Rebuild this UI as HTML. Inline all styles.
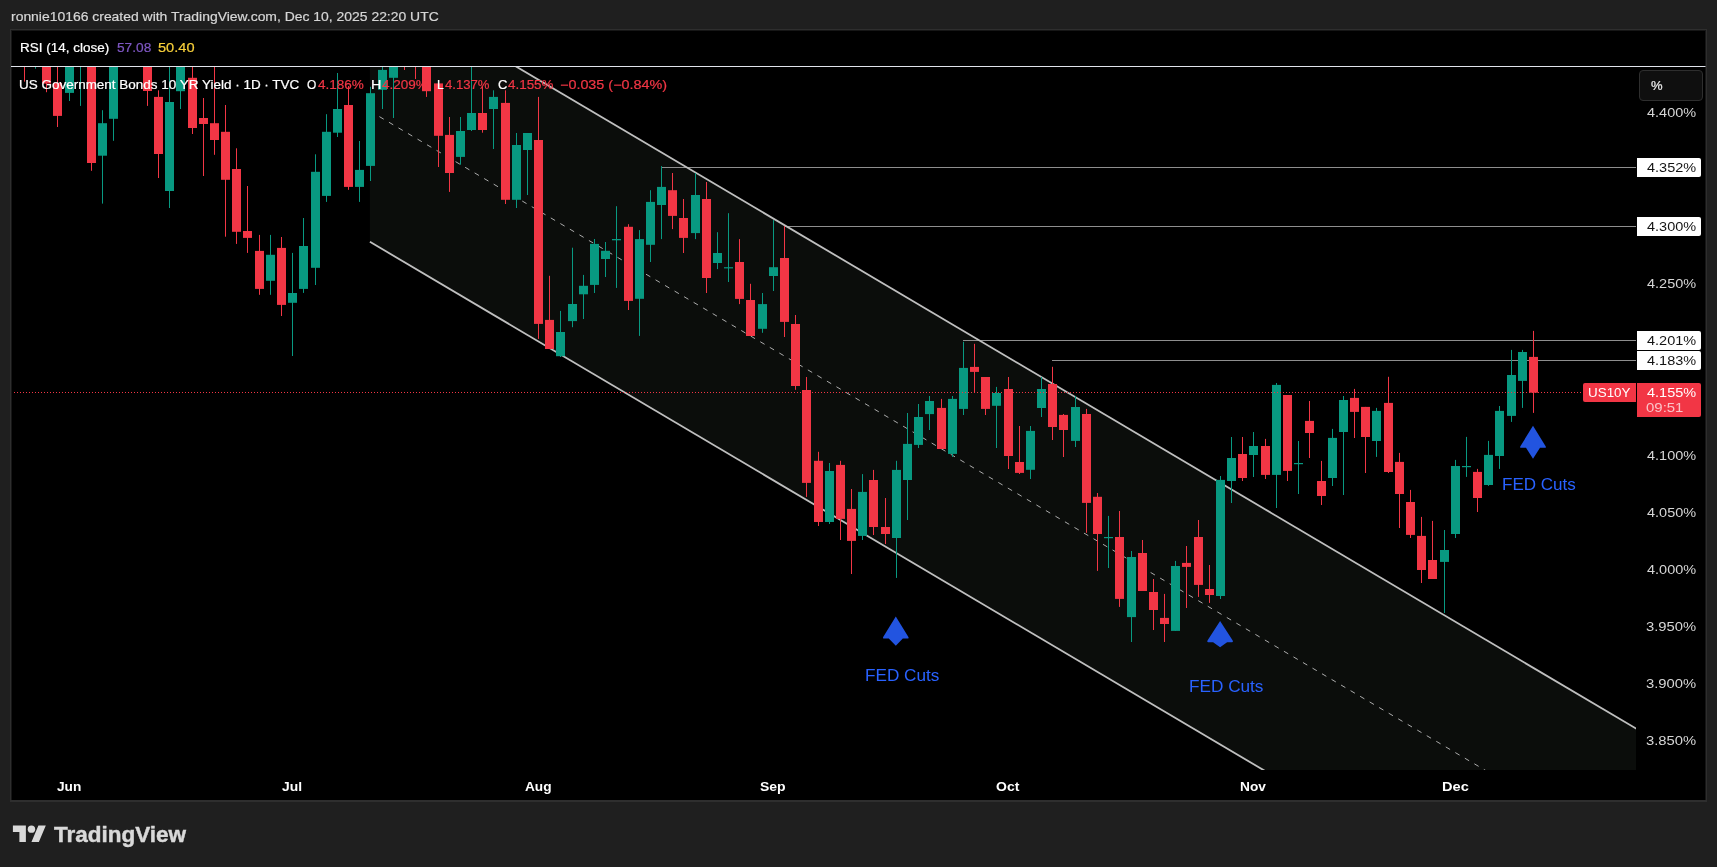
<!DOCTYPE html>
<html lang="en">
<head>
<meta charset="utf-8">
<title>US10Y chart</title>
<style>
html,body{margin:0;padding:0;}
body{width:1717px;height:867px;background:#1f1f1f;position:relative;overflow:hidden;font-family:"Liberation Sans", Arial, sans-serif;}
.frame{position:absolute;left:10px;top:29px;width:1697px;height:772.7px;background:#2e2e2e;}
.mid{position:absolute;left:11px;top:30px;width:1695px;height:770.3px;background:#161616;}
.inner{position:absolute;left:12px;top:31px;width:1693px;height:769px;background:#000;}
svg{position:absolute;left:0;top:0;}
.t{position:absolute;white-space:nowrap;font-family:"Liberation Sans", Arial, sans-serif;transform-origin:0 50%;will-change:transform;}
.lab{position:absolute;left:1637px;width:64px;height:19px;background:#fff;color:#1a1a1a;font-size:13px;line-height:19px;text-align:right;padding-right:5.7px;box-sizing:border-box;border-radius:0 2px 2px 0;}
.plab{position:absolute;left:1637px;top:383px;width:64px;height:33.8px;background:#f23645;color:#fff;font-size:13px;line-height:14.6px;text-align:right;padding:2.4px 5.7px 0 0;box-sizing:border-box;border-radius:0 2px 2px 0;}
.plab .cd{color:rgba(255,255,255,0.72);padding-right:11px;}
.sym{position:absolute;left:1583px;top:383px;width:52.6px;height:19px;background:#f23645;color:#fff;font-size:13px;line-height:19px;text-align:center;border-radius:2px 0 0 2px;}
.pct{position:absolute;left:1639.2px;top:70.4px;width:63.6px;height:30.4px;box-sizing:border-box;border:1px solid #2e2e2e;border-radius:4px;background:#0f0f0f;color:#d9d9d9;font-size:13px;line-height:28.4px;padding-left:10.4px;}
</style>
</head>
<body>
<div class="frame"></div>
<div class="mid"></div>
<div class="inner"></div>
<svg width="1717" height="867" viewBox="0 0 1717 867" shape-rendering="auto">
<defs><clipPath id="plot"><rect x="12.0" y="67.0" width="1624.0" height="703.0"/></clipPath></defs>
<g clip-path="url(#plot)">
<polygon points="369.9,-19.9 1700.0,766.4 1700.0,1028.1 369.9,241.8" fill="#0b0d0b"/>
<line x1="369.9" y1="111.0" x2="1700" y2="897.2" stroke="#ababab" stroke-width="1" stroke-dasharray="5 6.06"/>
<line x1="661" y1="167.5" x2="1636.0" y2="167.5" stroke="#8e8e8e" stroke-width="1"/>
<line x1="784" y1="226.5" x2="1636.0" y2="226.5" stroke="#8e8e8e" stroke-width="1"/>
<line x1="963" y1="340.5" x2="1636.0" y2="340.5" stroke="#8e8e8e" stroke-width="1"/>
<line x1="1052" y1="360.5" x2="1636.0" y2="360.5" stroke="#8e8e8e" stroke-width="1"/>
<line x1="369.9" y1="-19.9" x2="1700" y2="766.4" stroke="#bfbfbf" stroke-width="1.8"/>
<line x1="369.9" y1="241.8" x2="1700" y2="1028.1" stroke="#bfbfbf" stroke-width="1.8"/>
<rect x="24" y="40.0" width="1" height="41.6" fill="#f23645"/>
<rect x="20" y="40.0" width="9" height="10.0" fill="#f23645"/>
<rect x="35" y="40.0" width="1" height="28.7" fill="#089981"/>
<rect x="31" y="40.0" width="9" height="10.0" fill="#089981"/>
<rect x="46" y="40.0" width="1" height="52.2" fill="#f23645"/>
<rect x="42" y="40.0" width="9" height="43.6" fill="#f23645"/>
<rect x="57" y="40.0" width="1" height="87.0" fill="#f23645"/>
<rect x="53" y="83.0" width="9" height="32.9" fill="#f23645"/>
<rect x="69" y="40.0" width="1" height="61.0" fill="#089981"/>
<rect x="65" y="40.0" width="9" height="52.9" fill="#089981"/>
<rect x="80" y="40.0" width="1" height="65.9" fill="#089981"/>
<rect x="76" y="40.0" width="9" height="10.0" fill="#089981"/>
<rect x="91" y="40.0" width="1" height="130.8" fill="#f23645"/>
<rect x="87" y="40.0" width="9" height="123.0" fill="#f23645"/>
<rect x="102" y="110.2" width="1" height="93.4" fill="#089981"/>
<rect x="98" y="123.2" width="9" height="32.5" fill="#089981"/>
<rect x="113" y="40.0" width="1" height="100.8" fill="#089981"/>
<rect x="109" y="40.0" width="9" height="78.8" fill="#089981"/>
<rect x="147" y="40.0" width="1" height="65.9" fill="#f23645"/>
<rect x="143" y="40.0" width="9" height="51.0" fill="#f23645"/>
<rect x="158" y="90.3" width="1" height="87.7" fill="#f23645"/>
<rect x="154" y="96.9" width="9" height="57.1" fill="#f23645"/>
<rect x="169" y="40.0" width="1" height="168.0" fill="#089981"/>
<rect x="165" y="102.0" width="9" height="89.0" fill="#089981"/>
<rect x="180" y="40.0" width="1" height="69.0" fill="#089981"/>
<rect x="176" y="40.0" width="9" height="51.2" fill="#089981"/>
<rect x="192" y="40.0" width="1" height="94.0" fill="#f23645"/>
<rect x="188" y="77.8" width="9" height="50.2" fill="#f23645"/>
<rect x="203" y="98.0" width="1" height="78.0" fill="#f23645"/>
<rect x="199" y="118.0" width="9" height="6.0" fill="#f23645"/>
<rect x="214" y="40.0" width="1" height="114.8" fill="#f23645"/>
<rect x="210" y="123.2" width="9" height="16.8" fill="#f23645"/>
<rect x="225" y="105.0" width="1" height="131.7" fill="#f23645"/>
<rect x="221" y="131.8" width="9" height="48.0" fill="#f23645"/>
<rect x="236" y="148.3" width="1" height="95.6" fill="#f23645"/>
<rect x="232" y="169.0" width="9" height="62.8" fill="#f23645"/>
<rect x="247" y="186.0" width="1" height="66.9" fill="#f23645"/>
<rect x="243" y="231.0" width="9" height="6.9" fill="#f23645"/>
<rect x="259" y="234.9" width="1" height="59.9" fill="#f23645"/>
<rect x="255" y="250.9" width="9" height="38.0" fill="#f23645"/>
<rect x="270" y="234.9" width="1" height="59.9" fill="#089981"/>
<rect x="266" y="254.8" width="9" height="26.0" fill="#089981"/>
<rect x="281" y="237.0" width="1" height="79.0" fill="#f23645"/>
<rect x="277" y="247.9" width="9" height="57.0" fill="#f23645"/>
<rect x="292" y="252.9" width="1" height="103.1" fill="#089981"/>
<rect x="288" y="293.0" width="9" height="9.8" fill="#089981"/>
<rect x="303" y="218.0" width="1" height="74.9" fill="#089981"/>
<rect x="299" y="246.0" width="9" height="42.9" fill="#089981"/>
<rect x="315" y="154.3" width="1" height="130.7" fill="#089981"/>
<rect x="311" y="171.8" width="9" height="96.0" fill="#089981"/>
<rect x="326" y="114.2" width="1" height="87.7" fill="#089981"/>
<rect x="322" y="131.8" width="9" height="64.1" fill="#089981"/>
<rect x="337" y="73.0" width="1" height="64.0" fill="#089981"/>
<rect x="333" y="109.0" width="9" height="23.7" fill="#089981"/>
<rect x="348" y="86.0" width="1" height="103.8" fill="#f23645"/>
<rect x="344" y="105.0" width="9" height="81.9" fill="#f23645"/>
<rect x="359" y="141.0" width="1" height="60.9" fill="#089981"/>
<rect x="355" y="169.9" width="9" height="17.0" fill="#089981"/>
<rect x="370" y="86.8" width="1" height="94.2" fill="#089981"/>
<rect x="366" y="93.2" width="9" height="72.7" fill="#089981"/>
<rect x="382" y="40.0" width="1" height="69.0" fill="#089981"/>
<rect x="378" y="69.9" width="9" height="19.9" fill="#089981"/>
<rect x="393" y="40.0" width="1" height="78.0" fill="#089981"/>
<rect x="389" y="40.0" width="9" height="37.8" fill="#089981"/>
<rect x="404" y="40.0" width="1" height="30.0" fill="#f23645"/>
<rect x="400" y="40.0" width="9" height="10.0" fill="#f23645"/>
<rect x="415" y="40.0" width="1" height="39.0" fill="#f23645"/>
<rect x="411" y="40.0" width="9" height="10.0" fill="#f23645"/>
<rect x="426" y="40.0" width="1" height="56.9" fill="#f23645"/>
<rect x="422" y="40.0" width="9" height="51.2" fill="#f23645"/>
<rect x="438" y="83.4" width="1" height="83.6" fill="#f23645"/>
<rect x="434" y="83.4" width="9" height="52.4" fill="#f23645"/>
<rect x="449" y="117.0" width="1" height="74.9" fill="#f23645"/>
<rect x="445" y="134.9" width="9" height="38.1" fill="#f23645"/>
<rect x="460" y="117.0" width="1" height="47.7" fill="#089981"/>
<rect x="456" y="131.0" width="9" height="25.9" fill="#089981"/>
<rect x="471" y="40.0" width="1" height="91.0" fill="#089981"/>
<rect x="467" y="113.0" width="9" height="17.0" fill="#089981"/>
<rect x="482" y="86.0" width="1" height="46.7" fill="#f23645"/>
<rect x="478" y="113.0" width="9" height="17.0" fill="#f23645"/>
<rect x="493" y="90.3" width="1" height="58.7" fill="#089981"/>
<rect x="489" y="96.9" width="9" height="12.1" fill="#089981"/>
<rect x="505" y="90.3" width="1" height="113.7" fill="#f23645"/>
<rect x="501" y="102.9" width="9" height="96.9" fill="#f23645"/>
<rect x="516" y="133.0" width="1" height="75.0" fill="#089981"/>
<rect x="512" y="145.0" width="9" height="54.8" fill="#089981"/>
<rect x="527" y="133.0" width="1" height="62.0" fill="#089981"/>
<rect x="523" y="133.0" width="9" height="17.0" fill="#089981"/>
<rect x="538" y="96.9" width="1" height="242.0" fill="#f23645"/>
<rect x="534" y="140.0" width="9" height="183.9" fill="#f23645"/>
<rect x="549" y="275.8" width="1" height="73.2" fill="#f23645"/>
<rect x="545" y="319.9" width="9" height="29.1" fill="#f23645"/>
<rect x="560" y="310.9" width="1" height="46.1" fill="#089981"/>
<rect x="556" y="332.0" width="9" height="24.2" fill="#089981"/>
<rect x="572" y="247.7" width="1" height="79.5" fill="#089981"/>
<rect x="568" y="304.0" width="9" height="17.1" fill="#089981"/>
<rect x="583" y="274.9" width="1" height="44.1" fill="#089981"/>
<rect x="579" y="285.8" width="9" height="8.5" fill="#089981"/>
<rect x="594" y="239.0" width="1" height="54.0" fill="#089981"/>
<rect x="590" y="243.9" width="9" height="41.0" fill="#089981"/>
<rect x="605" y="242.0" width="1" height="35.0" fill="#089981"/>
<rect x="601" y="250.8" width="9" height="8.2" fill="#089981"/>
<rect x="616" y="206.2" width="1" height="81.7" fill="#089981"/>
<rect x="612" y="239.0" width="9" height="1.3" fill="#089981"/>
<rect x="628" y="224.2" width="1" height="85.8" fill="#f23645"/>
<rect x="624" y="226.8" width="9" height="74.1" fill="#f23645"/>
<rect x="639" y="230.1" width="1" height="105.8" fill="#089981"/>
<rect x="635" y="239.1" width="9" height="59.7" fill="#089981"/>
<rect x="650" y="190.2" width="1" height="71.8" fill="#089981"/>
<rect x="646" y="201.9" width="9" height="42.9" fill="#089981"/>
<rect x="661" y="166.1" width="1" height="73.0" fill="#089981"/>
<rect x="657" y="186.9" width="9" height="18.1" fill="#089981"/>
<rect x="672" y="173.0" width="1" height="56.1" fill="#f23645"/>
<rect x="668" y="190.2" width="9" height="25.7" fill="#f23645"/>
<rect x="683" y="199.0" width="1" height="54.0" fill="#f23645"/>
<rect x="679" y="218.0" width="9" height="19.9" fill="#f23645"/>
<rect x="695" y="173.0" width="1" height="66.1" fill="#089981"/>
<rect x="691" y="195.0" width="9" height="38.1" fill="#089981"/>
<rect x="706" y="182.0" width="1" height="111.0" fill="#f23645"/>
<rect x="702" y="199.0" width="9" height="79.0" fill="#f23645"/>
<rect x="717" y="232.2" width="1" height="36.9" fill="#089981"/>
<rect x="713" y="253.0" width="9" height="10.0" fill="#089981"/>
<rect x="728" y="213.2" width="1" height="68.8" fill="#089981"/>
<rect x="724" y="267.2" width="9" height="1.2" fill="#089981"/>
<rect x="739" y="239.1" width="1" height="65.0" fill="#f23645"/>
<rect x="735" y="262.0" width="9" height="36.9" fill="#f23645"/>
<rect x="750" y="283.8" width="1" height="52.2" fill="#f23645"/>
<rect x="746" y="300.0" width="9" height="36.0" fill="#f23645"/>
<rect x="762" y="293.0" width="1" height="39.8" fill="#089981"/>
<rect x="758" y="304.1" width="9" height="24.7" fill="#089981"/>
<rect x="773" y="220.1" width="1" height="70.9" fill="#089981"/>
<rect x="769" y="267.2" width="9" height="8.8" fill="#089981"/>
<rect x="784" y="226.2" width="1" height="110.8" fill="#f23645"/>
<rect x="780" y="258.0" width="9" height="63.9" fill="#f23645"/>
<rect x="795" y="315.0" width="1" height="74.8" fill="#f23645"/>
<rect x="791" y="324.0" width="9" height="62.0" fill="#f23645"/>
<rect x="806" y="377.0" width="1" height="119.9" fill="#f23645"/>
<rect x="802" y="390.0" width="9" height="92.9" fill="#f23645"/>
<rect x="818" y="451.8" width="1" height="74.2" fill="#f23645"/>
<rect x="814" y="460.8" width="9" height="61.2" fill="#f23645"/>
<rect x="829" y="463.0" width="1" height="61.0" fill="#089981"/>
<rect x="825" y="471.0" width="9" height="51.0" fill="#089981"/>
<rect x="840" y="460.8" width="1" height="79.2" fill="#f23645"/>
<rect x="836" y="464.9" width="9" height="54.0" fill="#f23645"/>
<rect x="851" y="489.0" width="1" height="85.0" fill="#f23645"/>
<rect x="847" y="508.9" width="9" height="32.0" fill="#f23645"/>
<rect x="862" y="474.1" width="1" height="65.9" fill="#089981"/>
<rect x="858" y="491.9" width="9" height="44.0" fill="#089981"/>
<rect x="873" y="469.9" width="1" height="65.1" fill="#f23645"/>
<rect x="869" y="480.0" width="9" height="47.0" fill="#f23645"/>
<rect x="885" y="498.0" width="1" height="46.0" fill="#f23645"/>
<rect x="881" y="527.0" width="9" height="7.0" fill="#f23645"/>
<rect x="896" y="460.8" width="1" height="117.1" fill="#089981"/>
<rect x="892" y="469.9" width="9" height="68.1" fill="#089981"/>
<rect x="907" y="413.0" width="1" height="107.0" fill="#089981"/>
<rect x="903" y="443.9" width="9" height="36.1" fill="#089981"/>
<rect x="918" y="404.0" width="1" height="44.0" fill="#089981"/>
<rect x="914" y="417.0" width="9" height="27.9" fill="#089981"/>
<rect x="929" y="396.0" width="1" height="34.0" fill="#089981"/>
<rect x="925" y="401.0" width="9" height="13.1" fill="#089981"/>
<rect x="941" y="398.9" width="1" height="50.1" fill="#f23645"/>
<rect x="937" y="407.9" width="9" height="41.1" fill="#f23645"/>
<rect x="952" y="396.0" width="1" height="60.9" fill="#089981"/>
<rect x="948" y="398.9" width="9" height="55.0" fill="#089981"/>
<rect x="963" y="341.8" width="1" height="73.2" fill="#089981"/>
<rect x="959" y="367.9" width="9" height="41.0" fill="#089981"/>
<rect x="974" y="343.8" width="1" height="49.0" fill="#f23645"/>
<rect x="970" y="366.9" width="9" height="5.0" fill="#f23645"/>
<rect x="985" y="377.0" width="1" height="38.0" fill="#f23645"/>
<rect x="981" y="377.0" width="9" height="31.9" fill="#f23645"/>
<rect x="996" y="386.9" width="1" height="61.1" fill="#089981"/>
<rect x="992" y="393.0" width="9" height="12.8" fill="#089981"/>
<rect x="1008" y="377.0" width="1" height="92.0" fill="#f23645"/>
<rect x="1004" y="389.0" width="9" height="67.0" fill="#f23645"/>
<rect x="1019" y="426.0" width="1" height="48.0" fill="#f23645"/>
<rect x="1015" y="462.0" width="9" height="10.9" fill="#f23645"/>
<rect x="1030" y="426.0" width="1" height="53.0" fill="#089981"/>
<rect x="1026" y="430.9" width="9" height="38.9" fill="#089981"/>
<rect x="1041" y="376.9" width="1" height="40.1" fill="#089981"/>
<rect x="1037" y="389.0" width="9" height="19.0" fill="#089981"/>
<rect x="1052" y="366.8" width="1" height="73.2" fill="#f23645"/>
<rect x="1048" y="384.0" width="9" height="43.0" fill="#f23645"/>
<rect x="1063" y="414.0" width="1" height="43.0" fill="#f23645"/>
<rect x="1059" y="414.9" width="9" height="15.1" fill="#f23645"/>
<rect x="1075" y="395.9" width="1" height="51.1" fill="#089981"/>
<rect x="1071" y="407.0" width="9" height="33.9" fill="#089981"/>
<rect x="1086" y="408.9" width="1" height="123.9" fill="#f23645"/>
<rect x="1082" y="414.0" width="9" height="88.9" fill="#f23645"/>
<rect x="1097" y="493.0" width="1" height="77.9" fill="#f23645"/>
<rect x="1093" y="496.8" width="9" height="37.2" fill="#f23645"/>
<rect x="1108" y="515.9" width="1" height="52.1" fill="#089981"/>
<rect x="1104" y="537.0" width="9" height="1.2" fill="#089981"/>
<rect x="1119" y="511.0" width="1" height="95.9" fill="#f23645"/>
<rect x="1115" y="537.0" width="9" height="61.9" fill="#f23645"/>
<rect x="1131" y="551.0" width="1" height="91.0" fill="#089981"/>
<rect x="1127" y="557.0" width="9" height="60.1" fill="#089981"/>
<rect x="1142" y="540.0" width="1" height="51.0" fill="#f23645"/>
<rect x="1138" y="553.0" width="9" height="38.0" fill="#f23645"/>
<rect x="1153" y="579.0" width="1" height="51.0" fill="#f23645"/>
<rect x="1149" y="592.0" width="9" height="18.0" fill="#f23645"/>
<rect x="1164" y="593.9" width="1" height="48.1" fill="#f23645"/>
<rect x="1160" y="617.9" width="9" height="6.1" fill="#f23645"/>
<rect x="1175" y="560.9" width="1" height="70.0" fill="#089981"/>
<rect x="1171" y="566.0" width="9" height="64.9" fill="#089981"/>
<rect x="1186" y="546.0" width="1" height="62.0" fill="#f23645"/>
<rect x="1182" y="562.9" width="9" height="4.0" fill="#f23645"/>
<rect x="1198" y="520.0" width="1" height="76.9" fill="#f23645"/>
<rect x="1194" y="537.0" width="9" height="47.9" fill="#f23645"/>
<rect x="1209" y="565.0" width="1" height="37.9" fill="#f23645"/>
<rect x="1205" y="589.0" width="9" height="6.0" fill="#f23645"/>
<rect x="1220" y="476.0" width="1" height="123.0" fill="#089981"/>
<rect x="1216" y="479.9" width="9" height="116.1" fill="#089981"/>
<rect x="1231" y="437.0" width="1" height="66.0" fill="#089981"/>
<rect x="1227" y="458.0" width="9" height="23.0" fill="#089981"/>
<rect x="1242" y="437.0" width="1" height="44.0" fill="#f23645"/>
<rect x="1238" y="454.0" width="9" height="24.0" fill="#f23645"/>
<rect x="1253" y="432.0" width="1" height="45.0" fill="#089981"/>
<rect x="1249" y="446.0" width="9" height="9.0" fill="#089981"/>
<rect x="1265" y="438.9" width="1" height="40.1" fill="#f23645"/>
<rect x="1261" y="446.0" width="9" height="28.9" fill="#f23645"/>
<rect x="1276" y="383.0" width="1" height="125.0" fill="#089981"/>
<rect x="1272" y="384.9" width="9" height="90.0" fill="#089981"/>
<rect x="1287" y="395.0" width="1" height="86.0" fill="#f23645"/>
<rect x="1283" y="395.0" width="9" height="75.9" fill="#f23645"/>
<rect x="1298" y="441.0" width="1" height="53.0" fill="#089981"/>
<rect x="1294" y="463.0" width="9" height="1.2" fill="#089981"/>
<rect x="1309" y="401.0" width="1" height="57.0" fill="#f23645"/>
<rect x="1305" y="420.9" width="9" height="12.1" fill="#f23645"/>
<rect x="1321" y="460.9" width="1" height="44.1" fill="#f23645"/>
<rect x="1317" y="481.0" width="9" height="15.0" fill="#f23645"/>
<rect x="1332" y="428.9" width="1" height="57.1" fill="#089981"/>
<rect x="1328" y="437.9" width="9" height="40.1" fill="#089981"/>
<rect x="1343" y="396.0" width="1" height="99.0" fill="#089981"/>
<rect x="1339" y="400.0" width="9" height="32.0" fill="#089981"/>
<rect x="1354" y="388.9" width="1" height="49.1" fill="#f23645"/>
<rect x="1350" y="397.9" width="9" height="14.0" fill="#f23645"/>
<rect x="1365" y="406.9" width="1" height="66.1" fill="#f23645"/>
<rect x="1361" y="406.9" width="9" height="30.1" fill="#f23645"/>
<rect x="1376" y="407.9" width="1" height="49.0" fill="#089981"/>
<rect x="1372" y="410.9" width="9" height="30.1" fill="#089981"/>
<rect x="1388" y="376.8" width="1" height="96.2" fill="#f23645"/>
<rect x="1384" y="402.9" width="9" height="69.1" fill="#f23645"/>
<rect x="1399" y="452.9" width="1" height="75.1" fill="#f23645"/>
<rect x="1395" y="461.9" width="9" height="32.1" fill="#f23645"/>
<rect x="1410" y="489.9" width="1" height="48.1" fill="#f23645"/>
<rect x="1406" y="502.0" width="9" height="32.9" fill="#f23645"/>
<rect x="1421" y="516.9" width="1" height="66.1" fill="#f23645"/>
<rect x="1417" y="535.9" width="9" height="34.1" fill="#f23645"/>
<rect x="1432" y="520.9" width="1" height="58.1" fill="#f23645"/>
<rect x="1428" y="560.0" width="9" height="19.0" fill="#f23645"/>
<rect x="1444" y="530.0" width="1" height="83.0" fill="#089981"/>
<rect x="1440" y="550.0" width="9" height="11.9" fill="#089981"/>
<rect x="1455" y="459.9" width="1" height="78.1" fill="#089981"/>
<rect x="1451" y="466.0" width="9" height="68.0" fill="#089981"/>
<rect x="1466" y="436.9" width="1" height="40.0" fill="#089981"/>
<rect x="1462" y="466.0" width="9" height="1.2" fill="#089981"/>
<rect x="1477" y="468.9" width="1" height="43.1" fill="#f23645"/>
<rect x="1473" y="471.9" width="9" height="26.1" fill="#f23645"/>
<rect x="1488" y="440.9" width="1" height="45.0" fill="#089981"/>
<rect x="1484" y="454.9" width="9" height="30.1" fill="#089981"/>
<rect x="1499" y="406.0" width="1" height="62.9" fill="#089981"/>
<rect x="1495" y="410.9" width="9" height="45.1" fill="#089981"/>
<rect x="1511" y="349.9" width="1" height="72.0" fill="#089981"/>
<rect x="1507" y="375.0" width="9" height="40.9" fill="#089981"/>
<rect x="1522" y="349.9" width="1" height="58.0" fill="#089981"/>
<rect x="1518" y="352.0" width="9" height="28.9" fill="#089981"/>
<rect x="1533" y="330.9" width="1" height="82.0" fill="#f23645"/>
<rect x="1529" y="356.9" width="9" height="35.8" fill="#f23645"/>
<line x1="14" y1="392.5" x2="1582" y2="392.5" stroke="#f23645" stroke-width="1" stroke-dasharray="1 2" shape-rendering="crispEdges"/>
<path d="M895.8 616.6 L908.4 637.0 Q909.2 638.6 907.8 638.6 L902.8 638.6 L895.8 645.8 L888.8 638.6 L883.8 638.6 Q882.4 638.6 883.2 637.0 Z" fill="#2254e0"/>
<path d="M1220.1 621.0 L1232.7 640.6 Q1233.5 642.2 1232.1 642.2 L1227.1 642.2 L1220.1 647.2 L1213.1 642.2 L1208.1 642.2 Q1206.7 642.2 1207.5 640.6 Z" fill="#2254e0"/>
<path d="M1533.0 425.8 L1545.6 446.2 Q1546.4 447.8 1545.0 447.8 L1540.0 447.8 L1533.0 458.8 L1526.0 447.8 L1521.0 447.8 Q1519.6 447.8 1520.4 446.2 Z" fill="#2254e0"/>
</g>
<rect x="11" y="66" width="1694.5" height="1" fill="#e0e3eb"/>
<g transform="translate(12.9 821.9) scale(0.927 0.914)" fill="#d9d9d9"><path d="M14 22H7V11H0V4h14v18zM28 22h-8l7.5-18h8L28 22z"/><circle cx="20" cy="8" r="4"/></g>
</svg>
<div class="lab" style="top:157.8px"></div>
<div class="lab" style="top:217.0px"></div>
<div class="lab" style="top:330.9px"></div>
<div class="lab" style="top:351.1px"></div>
<div class="plab"></div>
<div class="sym"></div>
<div class="pct"></div>
<div class="t" id="t0" style="left:10.78px;top:2.05px;font-size:13px;color:#d6d6d6;font-weight:normal;line-height:30px;transform:scaleX(1.0709);-webkit-text-stroke:0.20px currentColor;">ronnie10166 created with TradingView.com, Dec 10, 2025 22:20 UTC</div>
<div class="t" id="t1" style="left:19.50px;top:33.00px;font-size:12px;color:#ffffff;font-weight:normal;line-height:30px;transform:scaleX(1.1232);-webkit-text-stroke:0.20px currentColor;">RSI (14, close)</div>
<div class="t" id="t2" style="left:116.95px;top:33.00px;font-size:12px;color:#7e57c2;font-weight:normal;line-height:30px;transform:scaleX(1.1412);-webkit-text-stroke:0.20px currentColor;">57.08</div>
<div class="t" id="t3" style="left:157.67px;top:33.00px;font-size:12px;color:#f7cf3a;font-weight:normal;line-height:30px;transform:scaleX(1.2155);-webkit-text-stroke:0.20px currentColor;">50.40</div>
<div class="t" id="t4" style="left:19.20px;top:70.00px;font-size:12px;color:#ffffff;font-weight:normal;line-height:30px;transform:scaleX(1.1226);-webkit-text-stroke:0.20px currentColor;">US Government Bonds 10 YR Yield · 1D · TVC</div>
<div class="t" id="t5" style="left:307.25px;top:70.00px;font-size:12px;color:#ffffff;font-weight:normal;line-height:30px;transform:scaleX(0.9923);-webkit-text-stroke:0.20px currentColor;">O</div>
<div class="t" id="t6" style="left:317.70px;top:70.00px;font-size:12px;color:#f23645;font-weight:normal;line-height:30px;transform:scaleX(1.1267);-webkit-text-stroke:0.20px currentColor;">4.186%</div>
<div class="t" id="t7" style="left:371.00px;top:70.00px;font-size:12px;color:#ffffff;font-weight:normal;line-height:30px;transform:scaleX(1.2023);-webkit-text-stroke:0.20px currentColor;">H</div>
<div class="t" id="t8" style="left:382.00px;top:70.00px;font-size:12px;color:#f23645;font-weight:normal;line-height:30px;transform:scaleX(1.1267);-webkit-text-stroke:0.20px currentColor;">4.209%</div>
<div class="t" id="t9" style="left:437.00px;top:70.00px;font-size:12px;color:#ffffff;font-weight:normal;line-height:30px;transform:scaleX(1.0145);-webkit-text-stroke:0.20px currentColor;">L</div>
<div class="t" id="t10" style="left:444.90px;top:70.00px;font-size:12px;color:#f23645;font-weight:normal;line-height:30px;transform:scaleX(1.0934);-webkit-text-stroke:0.20px currentColor;">4.137%</div>
<div class="t" id="t11" style="left:498.20px;top:70.00px;font-size:12px;color:#ffffff;font-weight:normal;line-height:30px;transform:scaleX(1.0842);-webkit-text-stroke:0.20px currentColor;">C</div>
<div class="t" id="t12" style="left:507.70px;top:70.00px;font-size:12px;color:#f23645;font-weight:normal;line-height:30px;transform:scaleX(1.1175);-webkit-text-stroke:0.20px currentColor;">4.155%</div>
<div class="t" id="t13" style="left:560.24px;top:70.00px;font-size:12px;color:#f23645;font-weight:normal;line-height:30px;transform:scaleX(1.1976);-webkit-text-stroke:0.20px currentColor;">−0.035 (−0.84%)</div>
<div class="t" id="t14" style="left:1646.52px;top:97.60px;font-size:13px;color:#d6d6d6;font-weight:normal;line-height:30px;transform:scaleX(1.1151);">4.400%</div>
<div class="t" id="t15" style="left:1646.52px;top:268.60px;font-size:13px;color:#d6d6d6;font-weight:normal;line-height:30px;transform:scaleX(1.1151);">4.250%</div>
<div class="t" id="t16" style="left:1646.52px;top:440.60px;font-size:13px;color:#d6d6d6;font-weight:normal;line-height:30px;transform:scaleX(1.1151);">4.100%</div>
<div class="t" id="t17" style="left:1646.52px;top:497.60px;font-size:13px;color:#d6d6d6;font-weight:normal;line-height:30px;transform:scaleX(1.1151);">4.050%</div>
<div class="t" id="t18" style="left:1646.52px;top:554.60px;font-size:13px;color:#d6d6d6;font-weight:normal;line-height:30px;transform:scaleX(1.1151);">4.000%</div>
<div class="t" id="t19" style="left:1645.80px;top:611.60px;font-size:13px;color:#d6d6d6;font-weight:normal;line-height:30px;transform:scaleX(1.1377);">3.950%</div>
<div class="t" id="t20" style="left:1645.80px;top:668.60px;font-size:13px;color:#d6d6d6;font-weight:normal;line-height:30px;transform:scaleX(1.1377);">3.900%</div>
<div class="t" id="t21" style="left:1645.80px;top:725.60px;font-size:13px;color:#d6d6d6;font-weight:normal;line-height:30px;transform:scaleX(1.1377);">3.850%</div>
<div class="t" id="t22" style="left:1646.52px;top:153.00px;font-size:13px;color:#131313;font-weight:normal;line-height:30px;transform:scaleX(1.1151);">4.352%</div>
<div class="t" id="t23" style="left:1646.52px;top:212.00px;font-size:13px;color:#131313;font-weight:normal;line-height:30px;transform:scaleX(1.1151);">4.300%</div>
<div class="t" id="t24" style="left:1646.52px;top:326.00px;font-size:13px;color:#131313;font-weight:normal;line-height:30px;transform:scaleX(1.1151);">4.201%</div>
<div class="t" id="t25" style="left:1646.52px;top:346.00px;font-size:13px;color:#131313;font-weight:normal;line-height:30px;transform:scaleX(1.1151);">4.183%</div>
<div class="t" id="t26" style="left:1646.52px;top:377.70px;font-size:13px;color:#ffffff;font-weight:normal;line-height:30px;transform:scaleX(1.1151);">4.155%</div>
<div class="t" id="t27" style="left:1645.87px;top:393.00px;font-size:13px;color:#fbc3c8;font-weight:normal;line-height:30px;transform:scaleX(1.1499);">09:51</div>
<div class="t" id="t28" style="left:1588.00px;top:377.70px;font-size:13px;color:#ffffff;font-weight:normal;line-height:30px;transform:scaleX(1.0317);">US10Y</div>
<div class="t" id="t29" style="left:1651.00px;top:70.50px;font-size:13px;color:#ececec;font-weight:normal;line-height:30px;transform:scaleX(1.0029);-webkit-text-stroke:0.20px currentColor;">%</div>
<div class="t" id="t30" style="left:56.55px;top:772.00px;font-size:13px;color:#ffffff;font-weight:bold;line-height:30px;transform:scaleX(1.0522);">Jun</div>
<div class="t" id="t31" style="left:282.25px;top:772.00px;font-size:13px;color:#ffffff;font-weight:bold;line-height:30px;transform:scaleX(1.0677);">Jul</div>
<div class="t" id="t32" style="left:524.78px;top:772.00px;font-size:13px;color:#ffffff;font-weight:bold;line-height:30px;transform:scaleX(1.0505);">Aug</div>
<div class="t" id="t33" style="left:759.86px;top:772.00px;font-size:13px;color:#ffffff;font-weight:bold;line-height:30px;transform:scaleX(1.0769);">Sep</div>
<div class="t" id="t34" style="left:995.68px;top:772.00px;font-size:13px;color:#ffffff;font-weight:bold;line-height:30px;transform:scaleX(1.0761);">Oct</div>
<div class="t" id="t35" style="left:1240.30px;top:772.00px;font-size:13px;color:#ffffff;font-weight:bold;line-height:30px;transform:scaleX(1.0535);">Nov</div>
<div class="t" id="t36" style="left:1441.50px;top:772.00px;font-size:13px;color:#ffffff;font-weight:bold;line-height:30px;transform:scaleX(1.1228);">Dec</div>
<div class="t" id="t37" style="left:864.57px;top:661.00px;font-size:17px;color:#2962ff;font-weight:normal;line-height:30px;transform:scaleX(1.0097);">FED Cuts</div>
<div class="t" id="t38" style="left:1188.96px;top:672.00px;font-size:17px;color:#2962ff;font-weight:normal;line-height:30px;transform:scaleX(1.0105);">FED Cuts</div>
<div class="t" id="t39" style="left:1501.59px;top:470.00px;font-size:17px;color:#2962ff;font-weight:normal;line-height:30px;transform:scaleX(1.0024);">FED Cuts</div>
<div class="t" id="t40" style="left:53.70px;top:819.80px;font-size:22.5px;color:#d9d9d9;font-weight:bold;line-height:30px;transform:scaleX(0.9999);-webkit-text-stroke:0.45px currentColor;">TradingView</div>
</body>
</html>
